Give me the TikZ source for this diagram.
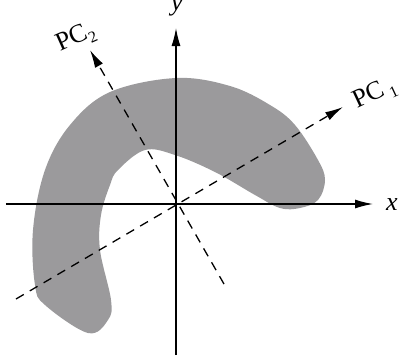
\documentclass[tikz,border=0pt]{standalone}
\usepackage{fontspec}
\setmainfont{Liberation Serif}
\usepackage{tikz}
\usetikzlibrary{arrows.meta}
\definecolor{blobgray}{RGB}{155,154,156}
\newcommand{\pcsub}[1]{\raisebox{-5pt}{\fontsize{16}{16}\selectfont #1}}

\begin{document}
\begin{tikzpicture}[x=1pt, y=1pt, >={Latex[length=18pt,width=9pt]},
        axis/.style={line width=1.4pt, ->},
        pcaxis/.style={line width=1.3pt, ->, dash pattern=on 9pt off 7pt},
        lbl/.style={inner sep=0pt, font=\fontsize{26}{30}\selectfont}]
        \useasboundingbox (-176,-153) rectangle (225,204);

        % the data cloud
        \fill[blobgray] plot[smooth cycle, tension=0.6] coordinates {
            (0,126) (-66,112) (-106,79) (-131,34) (-143,-26) (-141,-81)
            (-131,-101) (-88,-129) (-68,-116) (-65,-96) (-76,-46) (-75,-11)
            (-66,19) (-58,34) (-31,54) (-1,49) (39,32) (79,9) (104,-4)
            (124,-4) (142,4) (149,24) (142,44) (119,79) (94,99) (54,118)};

        \coordinate (o) at (0,0);
        \coordinate (xs) at (-170,0);
        \coordinate (xe) at (197,0);
        \coordinate (ys) at (0,-151);
        \coordinate (ye) at (0,176);
        \coordinate (pc1s) at (-160,-95);
        \coordinate (pc1e) at (167,97);
        \coordinate (pc2s) at (48,-80);
        \coordinate (pc2e) at (-86,154);

        \node[lbl] (xl) at (216,-1) {\textit{x}};
        \node[lbl] (yl) at (1,197) {\textit{y}};
        \node[lbl, rotate=25] (pc1l) at (199,110) {PC\,\pcsub{1}};
        \node[lbl, rotate=24] (pc2l) at (-100,166) {PC\pcsub{2}};

        \draw[axis] (xs) -- (xe);
        \draw[axis] (ys) -- (ye);
        \draw[pcaxis] (pc1s) -- (pc1e);
        \draw[pcaxis] (pc2s) -- (pc2e);
    \end{tikzpicture}
\end{document}
